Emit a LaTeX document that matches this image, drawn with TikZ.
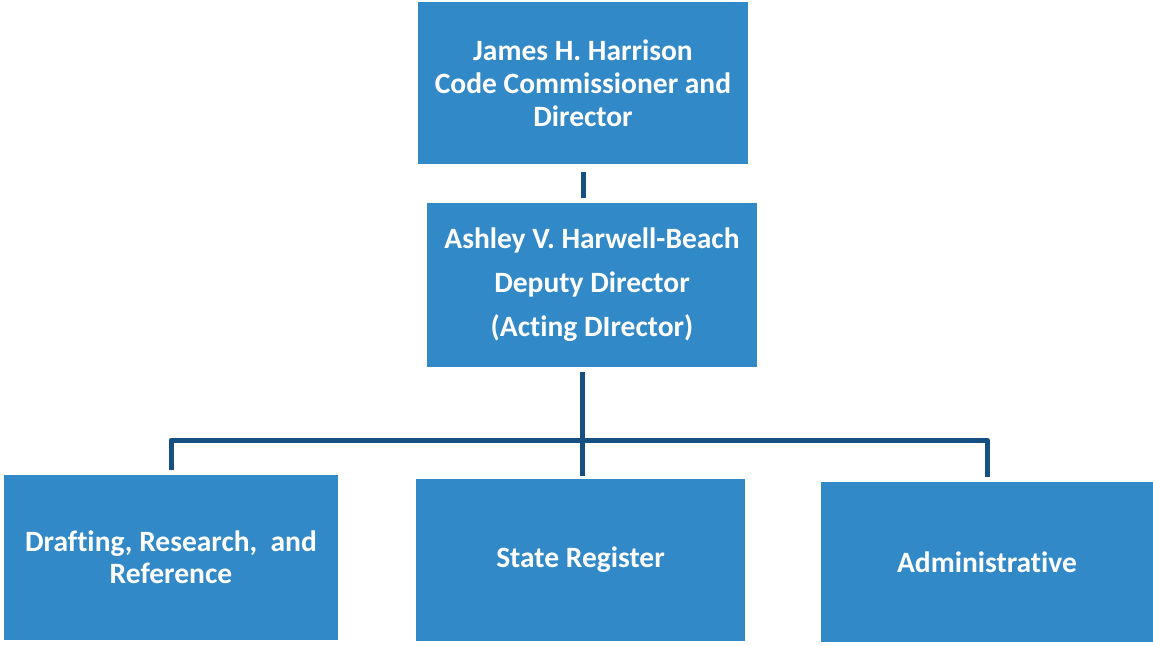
\documentclass[tikz,border=0pt]{standalone}
\usepackage{fontspec}
\setmainfont[Ligatures=NoCommon]{Carlito}
\usetikzlibrary{calc}
\definecolor{boxblue}{RGB}{50,137,199}
\definecolor{linkblue}{RGB}{22,80,130}
\begin{document}
\begin{tikzpicture}[x=1pt,y=-1pt,
  orgbox/.style={fill=boxblue, draw=none, text=white, align=center,
    font=\bfseries\fontsize{29.5}{33}\selectfont, inner sep=0pt, anchor=center},
  conn/.style={draw=linkblue, line width=5pt, line join=round}]
\useasboundingbox[fill=white] (0,0) rectangle (1153,645);
\node[orgbox, minimum width=330pt, minimum height=162pt] (b1) at (583,83)
  {James H. Harrison\\Code Commissioner and\\Director};
\node[orgbox, minimum width=330pt, minimum height=164pt,
  font=\bfseries\fontsize{29.5}{44}\selectfont] (b2) at (592,285)
  {Ashley V. Harwell-Beach\\Deputy Director\\(Acting DIrector)};
\node[orgbox, minimum width=334pt, minimum height=165pt,
  font=\bfseries\fontsize{29.5}{32}\selectfont] (b3) at (171,557.5)
  {Drafting, Research,\ \ and\\Reference};
\node[orgbox, minimum width=329pt, minimum height=162pt] (b4) at (580.5,560)
  {State Register};
\node[orgbox, minimum width=332pt, minimum height=160pt] (b5) at (987,562)
  {Administrative};
\coordinate (j) at (582,440);
\draw[conn, shorten <=8pt, shorten >=5pt] (b1.south) -- (b1.south |- b2.north);
\draw[conn, shorten <=5pt, shorten >=3pt] (b2.south -| j) -- (b4.north -| j);
\draw[conn, shorten <=5pt, shorten >=5pt] (b3.north) |- (j) -| (b5.north);
\end{tikzpicture}
\end{document}
